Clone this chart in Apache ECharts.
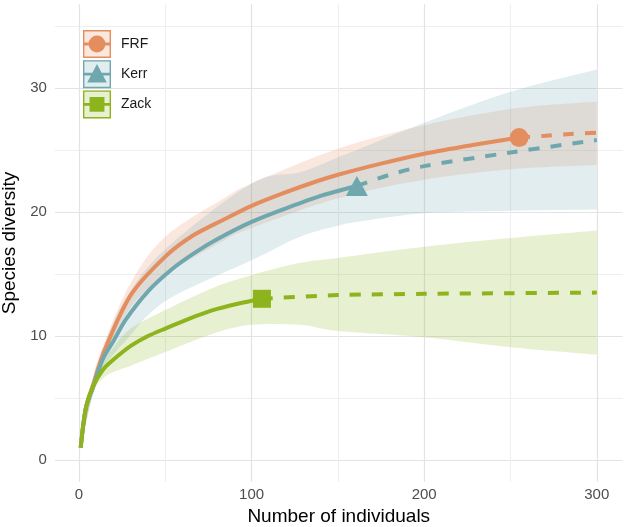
<!DOCTYPE html>
<html>
<head>
<meta charset="utf-8">
<script src="https://cdn.jsdelivr.net/npm/echarts@6.0.0/dist/echarts.min.js"></script>
<style>
  html, body { margin: 0; padding: 0; background: #fff; }
  #main { width: 624px; height: 527px; }
</style>
</head>
<body>
<div id="main"></div>
<script>
// sample-size based rarefaction (solid) and extrapolation (dashed)
const frfX = [1, 4, 8, 15, 30, 50, 66, 84, 100, 118, 134, 150, 175, 200, 228, 255];
const frfY = [1, 4.2, 6.0, 8.9, 13.3, 16.4, 18.1, 19.4, 20.5, 21.5, 22.3, 23.0, 23.9, 24.7, 25.4, 26.0];
const frfExtX = [255, 270, 285, 300];
const frfExtY = [26.0, 26.15, 26.3, 26.4];
const frfBandX = [1, 8, 15, 30, 50, 84, 100, 150, 200, 255, 300];
const frfLo = [1, 5.4, 8.3, 12.3, 14.9, 17.7, 18.7, 21.1, 22.6, 23.5, 23.8];
const frfHi = [1, 6.6, 9.6, 14.3, 18.0, 21.1, 22.3, 25.1, 27.0, 28.4, 28.9];

const kerrX = [1, 4, 8, 14, 20, 27, 40, 54, 67, 80, 100, 120, 140, 161];
const kerrY = [1, 4.2, 5.8, 8.2, 9.6, 11.3, 13.6, 15.4, 16.7, 17.8, 19.2, 20.3, 21.3, 22.1];
const kerrExtX = [161, 180, 200, 250, 300];
const kerrExtY = [22.1, 23.0, 23.7, 24.8, 25.8];
const kerrBandX = [1, 8, 14, 27, 50, 100, 128, 150, 161, 200, 250, 300];
const kerrLo = [1, 5.2, 7.4, 9.6, 12.8, 16.1, 18.0, 18.9, 19.2, 19.9, 20.1, 20.2];
const kerrHi = [1, 6.4, 9.0, 13.0, 17.0, 22.3, 23.2, 24.4, 25.0, 27.2, 29.7, 31.5];

const zackX = [1, 4, 8, 14, 20, 30, 40, 50, 64, 78, 92, 106];
const zackY = [1, 4.2, 5.9, 7.3, 8.1, 9.2, 10.0, 10.6, 11.4, 12.1, 12.6, 13.0];
const zackExtX = [106, 150, 200, 250, 300];
const zackExtY = [13.0, 13.3, 13.4, 13.45, 13.5];
const zackBandX = [1, 8, 14, 20, 30, 50, 78, 100, 128, 150, 200, 250, 300];
const zackLo = [1, 5.3, 6.6, 7.1, 7.6, 8.7, 10.2, 10.9, 10.9, 10.4, 9.9, 9.1, 8.5];
const zackHi = [1, 6.3, 8.0, 9.1, 10.6, 12.1, 13.9, 14.9, 15.9, 16.3, 17.2, 17.9, 18.5];

// observed sample size and richness (the big markers)
const obsFrf = [255, 26.0];
const obsKerr = [161, 22.1];
const obsZack = [106, 13.0];

const sites = ['FRF', 'Kerr', 'Zack'];
const colors = ['#E48D5E', '#6FA7AE', '#8DB41C'];
const fills = ['rgba(228,141,94,0.2)', 'rgba(111,167,174,0.2)', 'rgba(141,180,28,0.2)'];

const FONT = "'Liberation Sans', Arial, sans-serif";

function zip(xs, ys) {
  return xs.map((x, i) => [x, ys[i]]);
}

// catmull-rom style cubic segments through pixel points (start point excluded)
function curveTo(pts) {
  const k = 1 / 6;
  let d = '';
  for (let i = 0; i < pts.length - 1; i++) {
    const p0 = pts[Math.max(i - 1, 0)];
    const p1 = pts[i];
    const p2 = pts[i + 1];
    const p3 = pts[Math.min(i + 2, pts.length - 1)];
    const c1 = [p1[0] + (p2[0] - p0[0]) * k, p1[1] + (p2[1] - p0[1]) * k];
    const c2 = [p2[0] - (p3[0] - p1[0]) * k, p2[1] - (p3[1] - p1[1]) * k];
    d += 'C' + c1.join(' ') + ' ' + c2.join(' ') + ' ' + p2.join(' ');
  }
  return d;
}

// ribbon: upper edge left->right, then lower edge back
function bandSeries(name, xs, lo, hi, fill) {
  return {
    name: name + ' band',
    type: 'custom',
    data: xs.map((x, i) => [x, lo[i], hi[i]]),
    encode: { x: 0, y: [1, 2] },
    silent: true,
    clip: true,
    z: 1,
    renderItem(params, api) {
      if (params.dataIndex !== 0) return;
      const up = xs.map((x, i) => api.coord([x, hi[i]]));
      const down = xs.map((x, i) => api.coord([x, lo[i]])).reverse();
      const d = 'M' + up[0].join(' ') + curveTo(up) +
        'L' + down[0].join(' ') + curveTo(down) + 'Z';
      return {
        type: 'path',
        shape: { pathData: d },
        style: { fill: fill },
      };
    },
  };
}

function lineSeries(name, data, color, dashed) {
  return {
    name: name,
    type: 'line',
    data: data,
    symbol: 'none',
    smooth: 0.3,
    lineStyle: {
      color: color,
      width: 4,
      type: dashed ? [11, 11] : 'solid',
      cap: 'butt',
    },
    itemStyle: { color: color },
    z: 3,
  };
}

// legend keys: frame + line + marker
const keyIcons = [
  'path://M0 0H30V30H0Z M1.5 1.5V28.5H28.5V1.5Z M1.5 13.5H28.5V16.5H1.5Z M6 15A9 9 0 1 1 24 15A9 9 0 1 1 6 15Z',
  'path://M0 0H30V30H0Z M1.5 1.5V28.5H28.5V1.5Z M1.5 13.5H28.5V16.5H1.5Z M15 4L25.5 24H4.5Z',
  'path://M0 0H30V30H0Z M1.5 1.5V28.5H28.5V1.5Z M1.5 13.5H28.5V16.5H1.5Z M7 7H23V23H7Z',
];

const legendLeft = 83;
const legendTop = 30;
const keySize = 28;
const keyGap = 2.2;

const chart = echarts.init(document.getElementById('main'));

const option = {
  animation: false,
  backgroundColor: '#fff',
  textStyle: { fontFamily: FONT },
  grid: {
    left: 54.9, right: 1.4, top: 4.3, bottom: 45.3,
    containLabel: false,
    outerBoundsMode: 'none',
  },
  xAxis: {
    type: 'value',
    min: -13.95,
    max: 314.95,
    splitNumber: 6,
    axisLine: { show: false },
    axisTick: { show: false },
    axisLabel: {
      formatter: v => (v % 100 === 0 ? String(v) : ''),
      showMinLabel: false,
      showMaxLabel: false,
      color: '#4D4D4D',
      fontSize: 15,
      margin: 6,
      fontFamily: FONT,
    },
    splitLine: {
      show: true,
      showMinLine: false,
      showMaxLine: false,
      lineStyle: { color: ['#E3E3E3', '#EFEFEF'], width: 1.2 },
    },
    name: 'Number of individuals',
    nameLocation: 'middle',
    nameGap: 25,
    nameTextStyle: { fontSize: 19, color: '#000', fontFamily: FONT },
  },
  yAxis: {
    type: 'value',
    min: -1.75,
    max: 36.75,
    splitNumber: 8,
    axisLine: { show: false },
    axisTick: { show: false },
    axisLabel: {
      formatter: v => (v % 10 === 0 ? String(v) : ''),
      showMinLabel: false,
      showMaxLabel: false,
      color: '#4D4D4D',
      fontSize: 15,
      margin: 8,
      fontFamily: FONT,
    },
    splitLine: {
      show: true,
      showMinLine: false,
      showMaxLine: false,
      lineStyle: { color: ['#E3E3E3', '#EFEFEF'], width: 1.2 },
    },
    name: 'Species diversity',
    nameLocation: 'middle',
    nameGap: 31,
    nameTextStyle: { fontSize: 19, color: '#000', fontFamily: FONT },
  },
  legend: {
    orient: 'vertical',
    left: legendLeft,
    top: legendTop,
    padding: 0,
    itemWidth: keySize,
    itemHeight: keySize,
    itemGap: keyGap,
    z: 6,
    textStyle: { fontSize: 14, color: '#1A1A1A', fontFamily: FONT, padding: [0, 0, 0, 5] },
    data: sites.map((s, i) => ({
      name: s,
      icon: keyIcons[i],
      itemStyle: { color: colors[i], borderWidth: 0 },
    })),
  },
  graphic: sites.map((s, i) => ({
    type: 'rect',
    left: legendLeft,
    top: legendTop + i * (keySize + keyGap),
    z: 1,
    shape: { width: keySize, height: keySize },
    style: { fill: fills[i] },
  })),
  series: [
    lineSeries('FRF', zip(frfX, frfY), colors[0], false),
    lineSeries('Kerr', zip(kerrX, kerrY), colors[1], false),
    lineSeries('Zack', zip(zackX, zackY), colors[2], false),
    bandSeries('FRF', frfBandX, frfLo, frfHi, fills[0]),
    bandSeries('Kerr', kerrBandX, kerrLo, kerrHi, fills[1]),
    bandSeries('Zack', zackBandX, zackLo, zackHi, fills[2]),
    lineSeries('FRF ext', zip(frfExtX, frfExtY), colors[0], true),
    lineSeries('Kerr ext', zip(kerrExtX, kerrExtY), colors[1], true),
    lineSeries('Zack ext', zip(zackExtX, zackExtY), colors[2], true),
    { name: 'FRF obs', type: 'scatter', data: [obsFrf], symbol: 'circle', symbolSize: 19, itemStyle: { color: colors[0], opacity: 1 }, z: 4 },
    { name: 'Kerr obs', type: 'scatter', data: [obsKerr], symbol: 'triangle', symbolSize: [22, 20], itemStyle: { color: colors[1], opacity: 1 }, z: 4 },
    { name: 'Zack obs', type: 'scatter', data: [obsZack], symbol: 'rect', symbolSize: 18, itemStyle: { color: colors[2], opacity: 1 }, z: 4 },
  ],
};

chart.setOption(option);

window.addEventListener('resize', () => {
  chart.resize();
});
</script>
</body>
</html>
